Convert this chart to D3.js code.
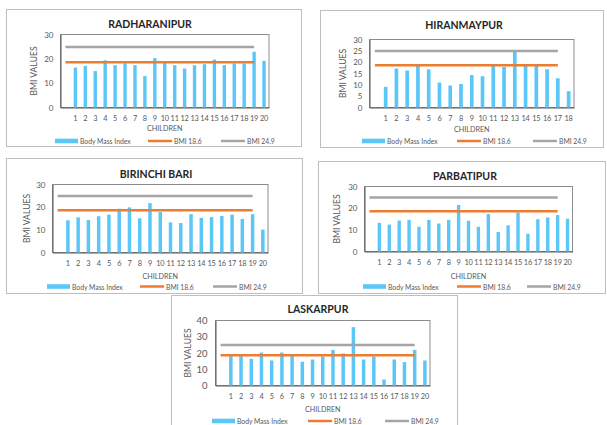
<!DOCTYPE html>
<html>
<head>
<meta charset="utf-8">
<script src="https://cdn.jsdelivr.net/npm/d3@7"></script>
<style>
  body { margin: 0; background: #fff; }
  svg { display: block; }
  text { font-family: Lato, "Open Sans", "Noto Sans", sans-serif; }
</style>
</head>
<body>
<svg id="chart" width="607" height="425"></svg>
<script>
// Child numbers along the x axis
const children20 = ["1","2","3","4","5","6","7","8","9","10","11","12","13","14","15","16","17","18","19","20"];
const children18 = ["1","2","3","4","5","6","7","8","9","10","11","12","13","14","15","16","17","18"];

// Body Mass Index of each child, per village
const radharanipurBMI = [16.4,17.1,15.0,19.4,17.4,18.2,17.4,12.9,20.3,18.3,17.4,16.0,17.4,17.8,19.7,17.4,18.1,18.1,22.9,19.2];
const hiranmaypurBMI  = [9.1,17.2,16.3,18.4,16.8,11.0,9.7,10.4,14.3,13.8,18.4,17.9,24.5,18.4,18.4,16.9,12.9,7.2];
const birinchiBariBMI = [14.2,15.5,14.3,16.0,16.7,19.3,19.9,15.1,21.8,17.9,13.3,13.0,16.9,15.3,15.6,16.1,16.7,14.8,16.9,10.1];
const parbatipurBMI   = [13.2,12.4,14.3,14.6,11.4,14.6,12.9,14.6,21.5,14.2,11.4,17.3,9.0,12.1,18.0,8.2,14.9,15.7,16.8,15.1];
const laskarpurBMI    = [18.1,18.1,16.4,20.3,15.4,20.3,18.1,14.6,16.0,17.8,21.9,19.7,35.9,16.0,17.8,3.7,16.0,14.4,21.9,15.4];

// Reference BMI cut-offs drawn as lines
const cutoffLow = 18.6;
const cutoffHigh = 24.9;
const seriesNames = ["Body Mass Index", "BMI 18.6", "BMI 24.9"];

const COLORS = { bar: "#5BC6F8", low: "#ED7D31", high: "#A5A5A5" };

const svg = d3.select("#chart");

function drawPanel(cfg) {
  const g = svg.append("g");
  const o = cfg.outer, p = cfg.plot;

  g.append("rect")
    .attr("x", o[0] + 0.5).attr("y", o[1] + 0.5)
    .attr("width", o[2] - o[0]).attr("height", o[3] - o[1])
    .attr("fill", "#fff").attr("stroke", "#bfbfbf").attr("stroke-width", 1);

  // first band is left empty so the cut-off lines start one slot before child 1
  const cats = [""].concat(cfg.labels);
  const x = d3.scaleBand().domain(cats).range([p[0], p[2]]);
  const y = d3.scaleLinear().domain([0, cfg.ymax]).range([p[3], p[1]]);
  const bw = x.bandwidth();
  const cx = c => x(c) + bw / 2;

  // plot frame
  g.append("rect")
    .attr("x", p[0]).attr("y", p[1])
    .attr("width", p[2] - p[0]).attr("height", p[3] - p[1])
    .attr("fill", "none").attr("stroke", "#8c8c8c").attr("stroke-width", 1);

  // y axis
  const ya = g.append("g").attr("transform", `translate(${p[0]},0)`)
    .call(d3.axisLeft(y).tickValues(d3.range(0, cfg.ymax + 0.001, cfg.step))
      .tickSize(0).tickPadding(cfg.yPad || 7).tickFormat(d3.format("d")));
  ya.select(".domain").attr("stroke", "#595959");
  ya.selectAll("text").attr("fill", "#595959").attr("font-size", cfg.yFont || 8);

  // x axis
  const xa = g.append("g").attr("transform", `translate(0,${p[3]})`)
    .call(d3.axisBottom(x).tickSize(0).tickPadding(8.5));
  xa.select(".domain").attr("stroke", "#595959");
  xa.selectAll("text").attr("fill", "#595959").attr("font-size", 7.4)
    .attr("letter-spacing", -0.2);

  // bars
  const barW = bw * 0.34;
  g.append("g").selectAll("rect")
    .data(cfg.labels.map((c, i) => ({ c, v: cfg.values[i] })))
    .join("rect")
    .attr("x", d => cx(d.c) - barW / 2)
    .attr("y", d => y(d.v))
    .attr("width", barW)
    .attr("height", d => y(0) - y(d.v))
    .attr("fill", COLORS.bar);

  // cut-off lines, one point per child, shifted one band to the left
  const linePts = cats.slice(0, cfg.labels.length);
  [[cutoffHigh, COLORS.high], [cutoffLow, COLORS.low]].forEach(([v, col]) => {
    g.append("path")
      .datum(linePts)
      .attr("d", d3.line().x(c => cx(c)).y(() => y(v)))
      .attr("fill", "none").attr("stroke", col).attr("stroke-width", 2.5);
  });

  // title
  g.append("text")
    .attr("x", cfg.titleX).attr("y", cfg.titleY)
    .attr("text-anchor", "middle").attr("dominant-baseline", "central")
    .attr("font-size", 10.5).attr("font-weight", "bold").attr("fill", "#262626")
    .text(cfg.title);

  // axis titles
  g.append("text")
    .attr("transform", `translate(${cfg.yTitleX},${(p[1] + p[3]) / 2}) rotate(-90)`)
    .attr("text-anchor", "middle").attr("dominant-baseline", "central")
    .attr("font-size", 8.6).attr("fill", "#595959")
    .text("BMI VALUES");
  g.append("text")
    .attr("x", (p[0] + p[2]) / 2).attr("y", cfg.xTitleY)
    .attr("text-anchor", "middle").attr("dominant-baseline", "central")
    .attr("font-size", 7.2).attr("fill", "#595959")
    .text("CHILDREN");

  // legend
  const ly = cfg.legendY, lx = cfg.legendX;
  g.append("rect").attr("x", lx[0]).attr("y", ly - 2.3).attr("width", 23).attr("height", 4.6)
    .attr("fill", COLORS.bar);
  g.append("line").attr("x1", lx[1]).attr("x2", lx[1] + 24).attr("y1", ly).attr("y2", ly)
    .attr("stroke", COLORS.low).attr("stroke-width", 2.5);
  g.append("line").attr("x1", lx[2]).attr("x2", lx[2] + 24).attr("y1", ly).attr("y2", ly)
    .attr("stroke", COLORS.high).attr("stroke-width", 2.5);
  [lx[0] + 25, lx[1] + 26, lx[2] + 26].forEach((tx, i) => {
    g.append("text").attr("x", tx).attr("y", ly)
      .attr("dominant-baseline", "central")
      .attr("font-size", 6.8).attr("fill", "#595959")
      .text(seriesNames[i]);
  });
}

drawPanel({
  title: "RADHARANIPUR", labels: children20, values: radharanipurBMI, ymax: 30, step: 10,
  outer: [6, 9, 301, 146], plot: [60.5, 34.5, 269, 107.5],
  titleX: 150, titleY: 24, yTitleX: 34, xTitleY: 128, legendY: 141, legendX: [55, 148, 221]
});
drawPanel({
  title: "HIRANMAYPUR", labels: children18, values: hiranmaypurBMI, ymax: 30, step: 5,
  outer: [320, 10, 603, 147], plot: [369.5, 39.5, 574, 107.5],
  titleX: 464, titleY: 25, yTitleX: 343, xTitleY: 129, legendY: 141, legendX: [362, 457, 533]
});
drawPanel({
  title: "BIRINCHI BARI", labels: children20, values: birinchiBariBMI, ymax: 30, step: 10,
  outer: [6, 158, 302, 293], plot: [52.5, 184.5, 268, 252.5],
  titleX: 156, titleY: 174, yTitleX: 27, xTitleY: 276, legendY: 286.5, legendX: [47, 140, 213]
});
drawPanel({
  title: "PARBATIPUR", labels: children20, values: parbatipurBMI, ymax: 30, step: 10,
  outer: [318, 161, 605, 293], plot: [364.5, 186.5, 572.5, 251.5],
  titleX: 465, titleY: 176, yTitleX: 337, xTitleY: 276.5, legendY: 286.5, legendX: [363, 457, 527]
});
drawPanel({
  title: "LASKARPUR", labels: children20, values: laskarpurBMI, ymax: 40, step: 10,
  outer: [171, 295, 457, 432], plot: [215.5, 320.5, 430, 385.5], yFont: 9.5, yPad: 8,
  titleX: 318, titleY: 309, yTitleX: 188, xTitleY: 409, legendY: 421, legendX: [212, 308, 385]
});
</script>
</body>
</html>
